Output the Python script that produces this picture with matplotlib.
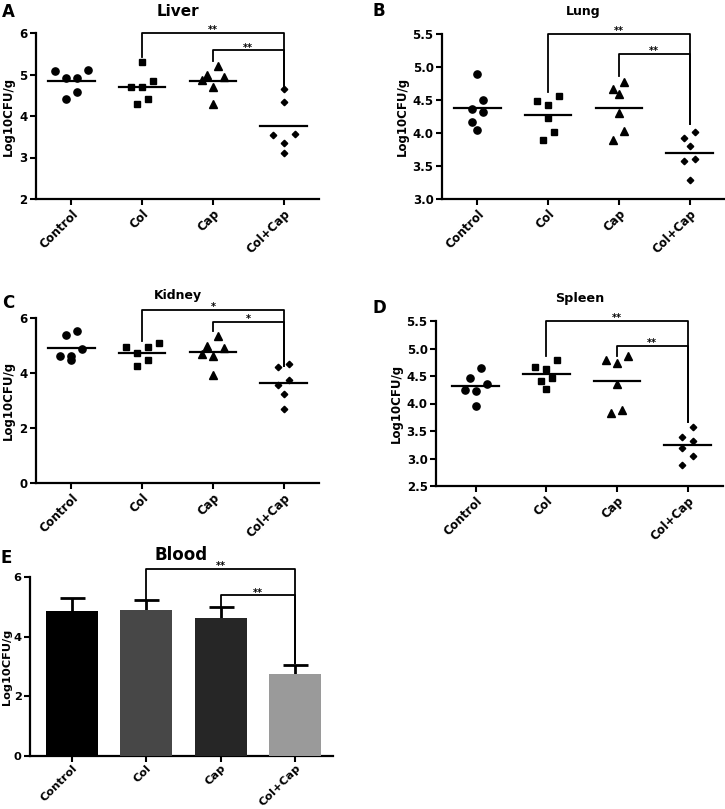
import numpy as np
import matplotlib
matplotlib.use("Agg")
import matplotlib.pyplot as plt

plt.rcParams['font.family'] = ['DejaVu Sans']
plt.rcParams['font.weight'] = 'bold'

groups = ["Control", "Col", "Cap", "Col+Cap"]
markers = ['o', 's', '^', 'D']
marker_sizes = [5.2, 4.6, 5.6, 3.3]

# log10 CFU/g, six mice per group ─────────────────────────────
liver = [
    [5.10, 5.09, 4.91, 4.91, 4.58, 4.41],
    [5.29, 4.85, 4.69, 4.69, 4.41, 4.29],
    [5.21, 5.00, 4.93, 4.86, 4.70, 4.29],
    [4.66, 4.34, 3.57, 3.55, 3.36, 3.10],
]
lung = [
    [4.89, 4.50, 4.37, 4.32, 4.16, 4.05],
    [4.56, 4.49, 4.43, 4.22, 4.01, 3.90],
    [4.78, 4.67, 4.59, 4.31, 4.03, 3.90],
    [4.01, 3.93, 3.80, 3.60, 3.57, 3.29],
]
kidney = [
    [5.54, 5.37, 4.87, 4.63, 4.63, 4.46],
    [5.09, 4.93, 4.93, 4.73, 4.46, 4.24],
    [5.33, 4.99, 4.91, 4.70, 4.63, 3.94],
    [4.33, 4.22, 3.76, 3.55, 3.25, 2.69],
]
spleen = [
    [4.65, 4.47, 4.35, 4.25, 4.23, 3.96],
    [4.79, 4.67, 4.62, 4.47, 4.41, 4.26],
    [4.86, 4.79, 4.74, 4.36, 3.88, 3.83],
    [3.58, 3.40, 3.32, 3.20, 3.05, 2.89],
]
blood_mean = [4.87, 4.90, 4.62, 2.74]
blood_sem = [0.42, 0.32, 0.36, 0.32]
bar_colors = ['#000000', '#474747', '#262626', '#9a9a9a']

# significance brackets: (group a, group b, level, drop a, drop b, label)
liver_sig = [(1, 3, 6.00, 5.42, 4.71, '**'), (2, 3, 5.58, 5.33, 4.71, '**')]
lung_sig = [(1, 3, 5.50, 4.62, 4.13, '**'), (2, 3, 5.20, 4.87, 4.13, '**')]
kidney_sig = [(1, 3, 6.30, 5.15, 4.24, '*'), (2, 3, 5.85, 5.52, 4.24, '*')]
spleen_sig = [(1, 3, 5.50, 4.86, 3.67, '**'), (2, 3, 5.05, 4.86, 3.67, '**')]
blood_sig = [(1, 3, 6.27, 5.24, 3.11, '**'), (2, 3, 5.38, 5.01, 3.11, '**')]

W, H = 725, 809
fig = plt.figure(figsize=(W / 100, H / 100), dpi=100)


def px_axes(left, top, right, bottom):
    return fig.add_axes([left / W, 1 - bottom / H, (right - left) / W, (bottom - top) / H])


def swarm_offsets(vals, ax, step_px=11, row_px=11):
    # graphpad-ish: bunch close values into rows, spread each row about the centre
    y2px = ax.bbox.height / np.diff(ax.get_ylim())[0]
    x2px = ax.bbox.width / np.diff(ax.get_xlim())[0]
    order = np.argsort(vals)[::-1]
    offs = np.zeros(len(vals))
    rows = []
    for k in order:
        if rows and (vals[rows[-1][0]] - vals[k]) * y2px < row_px:
            rows[-1].append(k)
        else:
            rows.append([k])
    for row in rows:
        n = len(row)
        slots = sorted(np.arange(n) - (n - 1) / 2, key=lambda s: (-abs(s), -s))
        for k, s in zip(row, slots):
            offs[k] = s * step_px / x2px
    return offs


def style(ax, title, tsize, tpad=12, lsize=8.5, lpad=3):
    for s in ['top', 'right']:
        ax.spines[s].set_visible(False)
    for s in ['left', 'bottom']:
        ax.spines[s].set_linewidth(1.6)
    ax.tick_params(width=1.5, length=4, labelsize=lsize, pad=2)
    ax.set_xticks(range(4))
    ax.set_xticklabels(groups, rotation=45, ha='right', rotation_mode='anchor')
    ax.set_ylabel('Log10CFU/g', fontsize=lsize, fontweight='bold', labelpad=lpad)
    ax.set_title(title, fontsize=tsize, fontweight='bold', pad=tpad)


def brackets(ax, sig):
    for a, b, lvl, da, db, lab in sig:
        ax.plot([a, a, b, b], [da, lvl, lvl, db], color='black', lw=1.3, clip_on=False)
        ax.annotate(lab, ((a + b) / 2, lvl), xytext=(0, -1.5), textcoords='offset points',
                    ha='center', va='bottom', fontsize=7, fontweight='bold', annotation_clip=False)


def dot_panel(ax, data, ylim, yticks, fmt, title, tsize, sig, xlim=(-0.5, 3.5), tpad=12):
    ax.set_xlim(*xlim)
    ax.set_ylim(*ylim)
    for i, vals in enumerate(data):
        vals = np.asarray(vals)
        off = swarm_offsets(vals, ax)
        ax.plot(i + off, vals, ls='none', marker=markers[i], ms=marker_sizes[i],
                color='black', clip_on=False)
        m = vals.mean()
        ax.plot([i - 0.33, i + 0.33], [m, m], color='black', lw=1.6)
    ax.set_yticks(yticks)
    ax.set_yticklabels([fmt.format(t) for t in yticks])
    style(ax, title, tsize, tpad)
    brackets(ax, sig)


axA = px_axes(36, 33, 319, 199)
dot_panel(axA, liver, (2, 6), [2, 3, 4, 5, 6], '{:.0f}', 'Liver', 11, liver_sig)

axB = px_axes(442, 34, 725, 199)
dot_panel(axB, lung, (3.0, 5.5), [3.0, 3.5, 4.0, 4.5, 5.0, 5.5], '{:.1f}', 'Lung', 9, lung_sig,
          tpad=14)

axC = px_axes(36, 318, 319, 483)
dot_panel(axC, kidney, (0, 6), [0, 2, 4, 6], '{:.0f}', 'Kidney', 9, kidney_sig, tpad=14)

axD = px_axes(436, 321, 723, 486)
dot_panel(axD, spleen, (2.5, 5.5), [2.5, 3.0, 3.5, 4.0, 4.5, 5.0, 5.5], '{:.1f}', 'Spleen', 9.2,
          spleen_sig, xlim=(-0.56, 3.5), tpad=14)

# blood: bars with SEM, lower half hidden behind the bar ─────────────
axE = px_axes(30, 577, 333, 756)
x = np.arange(4)
axE.bar(x, blood_mean, width=0.7, color=bar_colors, zorder=3)
axE.errorbar(x, blood_mean, yerr=blood_sem, fmt='none', ecolor='black',
             elinewidth=2, capsize=9, capthick=2, zorder=2)
axE.set_xlim(-0.565, 3.51)
axE.set_ylim(0, 6)
axE.set_yticks([0, 2, 4, 6])
style(axE, 'Blood', 12, lsize=8.2, lpad=1)
axE.tick_params(axis='x', pad=1)
brackets(axE, blood_sig)

for lab, xp, yp in [('A', 2, 3), ('B', 372, 2), ('C', 2, 294), ('D', 372, 299), ('E', 1, 549)]:
    fig.text(xp / W, 1 - yp / H, lab, fontsize=12, fontweight='bold', ha='left', va='top')

fig.savefig('out.png', dpi=100)
